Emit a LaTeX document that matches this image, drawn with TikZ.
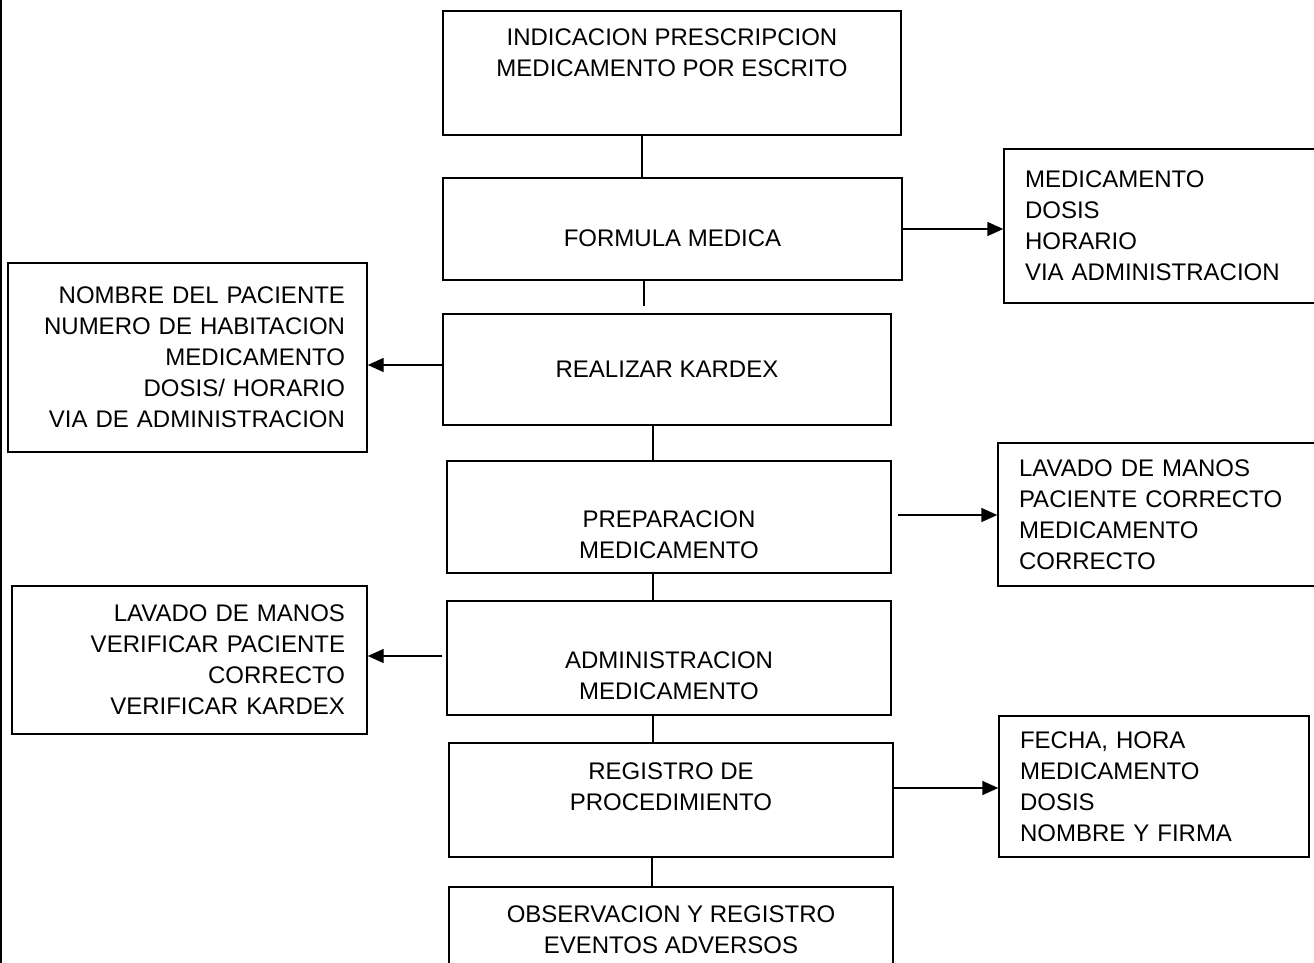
\documentclass[tikz,border=0pt]{standalone}
\usepackage{fontspec}
\setmainfont{Liberation Sans}
\usetikzlibrary{arrows.meta}
\begin{document}
\begin{tikzpicture}[x=1pt,y=-1pt,line width=1.4pt]
	\tikzstyle{box}=[draw=black,rectangle,inner sep=0pt,font=\fontsize{24}{31}\selectfont,align=center]
	\tikzstyle{lbox}=[box,inner xsep=21pt,align=left]
	\tikzstyle{rbox}=[box,inner xsep=22pt,align=right]
	\tikzstyle{flecha}=[-{Triangle[length=16pt,width=14pt]}]
	\useasboundingbox (0,0) rectangle (1314,963);
	\draw[line width=1.6pt] (1,0) -- (1,963);
	% pasos centrales
	\node[box,minimum width=458pt,minimum height=124pt](b1) at (672,73) {INDICACION PRESCRIPCION\\MEDICAMENTO POR ESCRITO\\\strut};
	\node[box,minimum width=459pt,minimum height=102pt](b2) at (672.5,229) {\raisebox{-9pt}[17.4pt][0pt]{FORMULA MEDICA}};
	\node[box,minimum width=448pt,minimum height=111pt](b3) at (667,369.5) {REALIZAR KARDEX};
	\node[box,minimum width=444pt,minimum height=112pt](b4) at (669,517) {\strut\\PREPARACION\\MEDICAMENTO};
	\node[box,minimum width=444pt,minimum height=114pt](b5) at (669,658) {\strut\\ADMINISTRACION\\MEDICAMENTO};
	\node[box,minimum width=444pt,minimum height=114pt](b6) at (671,800) {REGISTRO DE\\PROCEDIMIENTO\\[-13.3pt]\strut};
	\node[box,minimum width=444pt,minimum height=85pt](b7) at (671,929.5) {OBSERVACION Y REGISTRO\\EVENTOS ADVERSOS};
	% listas
	\node[lbox,text width=284pt,minimum height=154pt](r1) at (1167,226) {MEDICAMENTO\\DOSIS\\HORARIO\\VIA ADMINISTRACION};
	\node[rbox,text width=315pt,minimum height=189pt](l1) at (187.5,357.5) {NOMBRE DEL PACIENTE\\NUMERO DE HABITACION\\MEDICAMENTO\\DOSIS/ HORARIO\\VIA DE ADMINISTRACION};
	\node[lbox,text width=290pt,minimum height=143pt](r2) at (1164,514.5) {LAVADO DE MANOS\\PACIENTE CORRECTO\\MEDICAMENTO\\CORRECTO};
	\node[rbox,text width=311pt,minimum height=148pt](l2) at (189.5,660) {LAVADO DE MANOS\\VERIFICAR PACIENTE\\CORRECTO\\VERIFICAR KARDEX};
	\node[lbox,text width=268pt,minimum height=141pt](r3) at (1154,786.5) {FECHA, HORA\\MEDICAMENTO\\DOSIS\\NOMBRE Y FIRMA};
	% uniones
	\draw ([xshift=-30pt]b1.south) -- ([xshift=-30pt]b1.south |- b2.north);
	\draw[shorten >=7pt] ([xshift=-28.5pt]b2.south) -- ([xshift=-28.5pt]b2.south |- b3.north);
	\draw ([xshift=-14pt]b3.south) -- ([xshift=-14pt]b3.south |- b4.north);
	\draw ([xshift=-16pt]b4.south) -- ([xshift=-16pt]b4.south |- b5.north);
	\draw ([xshift=-16pt]b5.south) -- ([xshift=-16pt]b5.south |- b6.north);
	\draw ([xshift=-19pt]b6.south) -- ([xshift=-19pt]b6.south |- b7.north);
	\draw[flecha] (b2.east) -- (b2.east -| r1.west);
	\draw[flecha] ([yshift=4.5pt]b3.west) -- ([yshift=4.5pt]b3.west -| l1.east);
	\draw[flecha] ([xshift=6pt,yshift=2pt]b4.east) -- ([yshift=2pt]b4.east -| r2.west);
	\draw[flecha] ([xshift=-4pt,yshift=2pt]b5.west) -- ([yshift=2pt]b5.west -| l2.east);
	\draw[flecha] ([yshift=12pt]b6.east) -- ([yshift=12pt]b6.east -| r3.west);
\end{tikzpicture}
\end{document}
